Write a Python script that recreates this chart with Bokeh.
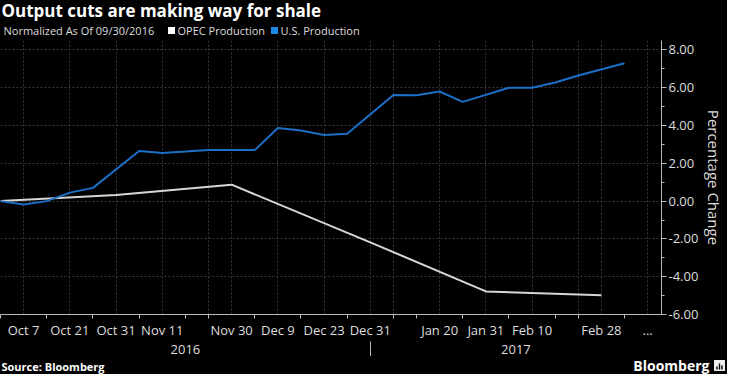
from bokeh.plotting import figure
from bokeh.layouts import column
from bokeh.models import Range1d, FixedTicker, NumeralTickFormatter, ColumnDataSource, LinearAxis
from bokeh.core.properties import value
from bokeh.embed import file_html
from bokeh.resources import INLINE

# Ordered observation dates (weekly U.S. data merged with month-end OPEC data)
dates = ["Sep 30", "Oct 7", "Oct 14", "Oct 21", "Oct 28", "Oct 31", "Nov 4", "Nov 11",
         "Nov 18", "Nov 25", "Nov 30", "Dec 2", "Dec 9", "Dec 16", "Dec 23", "Dec 30",
         "Dec 31", "Jan 6", "Jan 13", "Jan 20", "Jan 27", "Jan 31", "Feb 3", "Feb 10",
         "Feb 17", "Feb 24", "Feb 28", "Mar 3", "..."]

us_dates = ["Sep 30", "Oct 7", "Oct 14", "Oct 21", "Oct 28", "Nov 4", "Nov 11", "Nov 18",
            "Nov 25", "Dec 2", "Dec 9", "Dec 16", "Dec 23", "Dec 30", "Jan 6", "Jan 13",
            "Jan 20", "Jan 27", "Feb 3", "Feb 10", "Feb 17", "Feb 24", "Mar 3"]
us_values = [0.0, -0.18, 0.0, 0.45, 0.70, 2.65, 2.55, 2.62, 2.70, 2.70, 3.87, 3.74,
             3.50, 3.57, 5.62, 5.60, 5.80, 5.25, 6.00, 6.00, 6.28, 6.65, 7.30]

opec_dates = ["Sep 30", "Oct 31", "Nov 30", "Dec 31", "Jan 31", "Feb 28"]
opec_values = [0.0, 0.32, 0.87, -2.18, -4.78, -4.98]

label_dates = ["Oct 7", "Oct 21", "Oct 31", "Nov 11", "Nov 30", "Dec 9", "Dec 23",
               "Dec 31", "Jan 20", "Jan 31", "Feb 10", "Feb 28", "..."]
grid_only_dates = ["Nov 25", "Jan 6", "Feb 24"]
year_labels = ["2016", "2017"]
year_split = "Dec 31"
y_ticks = [-6, -4, -2, 0, 2, 4, 6, 8]
y_minor = [-5, -3, -1, 1, 3, 5, 7]

title_text = "Output cuts are making way for shale"
subtitle_text = "Normalized As Of 09/30/2016"
series_names = ["OPEC Production", "U.S. Production"]
source_text = "Source: Bloomberg"
brand_text = "Bloomberg"

OPEC_COLOR = "#d6d6d6"
US_COLOR = "#1b6fc6"
US_SWATCH = "#1e88e5"
TXT = "#dddddd"
AX = "#bbbbbb"
FONT = "Open Sans"

idx = {d: i for i, d in enumerate(dates)}
us_x = [idx[d] for d in us_dates]
opec_x = [idx[d] for d in opec_dates]
label_x = [idx[d] for d in label_dates]
grid_x = sorted(label_x + [idx[d] for d in grid_only_dates])
minor_x = [i for i in range(len(dates)) if i not in label_x]

W = 727
HEAD_H, MAIN_H, FOOT_H = 38, 318, 18
x_max = 28.6
split = idx[year_split]


def blank(h):
    f = figure(width=W, height=h, x_range=Range1d(0, W), y_range=Range1d(h, 0),
               output_backend="svg", toolbar_location=None,
               x_axis_location=None, y_axis_location=None,
               background_fill_color="black", border_fill_color="black",
               min_border=0)
    f.outline_line_color = None
    f.grid.visible = False
    f.frame_align = False
    return f


# ---------- header ----------
head = blank(HEAD_H)
head.text(x=[1], y=[10], text=[title_text], text_color="white", text_font=value(FONT),
          text_font_size="17px", text_font_style="bold", text_baseline="middle")
head.text(x=[3], y=[30], text=[subtitle_text], text_color=TXT, text_font=value(FONT),
          text_font_size="11px", text_baseline="middle")
head.scatter(x=[171, 274], y=[30, 30], marker="square", size=7,
             fill_color=["white", US_SWATCH], line_color=None)
head.text(x=[177, 280], y=[30, 30], text=series_names, text_color=TXT,
          text_font=value(FONT), text_font_size="11px", text_baseline="middle")

# ---------- main plot ----------
p = figure(width=W, height=MAIN_H, x_range=Range1d(0, x_max), y_range=Range1d(-6, 8.5),
           output_backend="svg", toolbar_location=None, y_axis_location="right",
           background_fill_color="black", border_fill_color="black",
           min_border_left=0, min_border_right=60, min_border_top=2, min_border_bottom=40)
p.outline_line_color = None
p.frame_align = False

p.line("x", "y", source=ColumnDataSource(dict(x=opec_x, y=opec_values)),
       line_color=OPEC_COLOR, line_width=2)
p.line("x", "y", source=ColumnDataSource(dict(x=us_x, y=us_values)),
       line_color=US_COLOR, line_width=2)

xa = p.xaxis[0]
xa.ticker = FixedTicker(ticks=label_x, minor_ticks=minor_x)
xa.major_label_overrides = {i: dates[i] for i in label_x}
xa.major_tick_out = 0
xa.major_tick_in = 0
xa.minor_tick_out = 4
xa.minor_tick_in = 0
xa.minor_tick_line_color = AX
xa.axis_line_color = AX
xa.major_label_text_color = TXT
xa.major_label_text_font = FONT
xa.major_label_text_font_size = "13px"
xa.major_label_standoff = 2

year_x = [split / 2, (split + x_max) / 2]
yr = LinearAxis(ticker=FixedTicker(ticks=year_x, minor_ticks=[split]),
                major_label_overrides={year_x[0]: year_labels[0], year_x[1]: year_labels[1]})
yr.axis_line_color = None
yr.major_tick_line_color = None
yr.major_tick_out = 0
yr.major_tick_in = 0
yr.minor_tick_out = 20
yr.minor_tick_in = 0
yr.minor_tick_line_color = AX
yr.major_label_text_color = TXT
yr.major_label_text_font = FONT
yr.major_label_text_font_size = "13px"
yr.major_label_standoff = -17
p.add_layout(yr, "below")

ya = p.yaxis[0]
ya.ticker = FixedTicker(ticks=y_ticks, minor_ticks=y_minor)
ya.formatter = NumeralTickFormatter(format="0.00")
ya.major_tick_out = 5
ya.major_tick_in = 0
ya.minor_tick_out = 3
ya.minor_tick_in = 0
ya.major_tick_line_color = AX
ya.minor_tick_line_color = AX
ya.axis_line_color = AX
ya.major_label_text_color = TXT
ya.major_label_text_font = FONT
ya.major_label_text_font_size = "13px"
ya.major_label_standoff = 2
ya.axis_label = "Percentage Change"
ya.axis_label_text_color = TXT
ya.axis_label_text_font = FONT
ya.axis_label_text_font_size = "15px"
ya.axis_label_text_font_style = "normal"
ya.axis_label_standoff = 3

p.xgrid.ticker = FixedTicker(ticks=grid_x)
for g in (p.xgrid[0], p.ygrid[0]):
    g.grid_line_color = "#3a3a3a"
    g.grid_line_dash = "2 2"
    g.grid_line_width = 1

# ---------- footer ----------
foot = blank(FOOT_H)
foot.text(x=[1], y=[10], text=[source_text], text_color="white", text_font=value(FONT),
          text_font_size="11px", text_font_style="bold", text_baseline="middle")
foot.text(x=[709], y=[9], text=[brand_text], text_color="white", text_font=value(FONT),
          text_font_size="14px", text_font_style="bold", text_baseline="middle",
          text_align="right")
foot.rect(x=[719], y=[9], width=11, height=11, fill_color="#eeeeee", line_color=None)
foot.vbar(x=[716.5, 719, 721.5], bottom=[13, 13, 13], top=[10, 7, 9], width=1.4,
          fill_color="black", line_color=None)

layout = column(head, p, foot, spacing=0, styles={"background-color": "black"})
open("out.html", "w").write(file_html(layout, INLINE))
